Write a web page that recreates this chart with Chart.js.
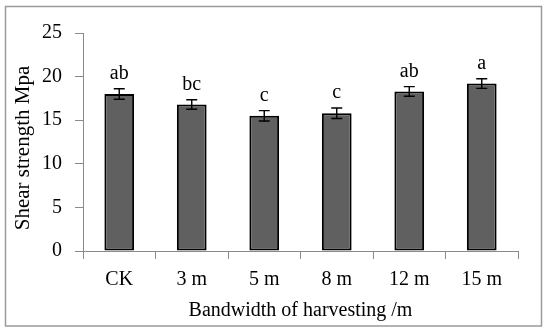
<!DOCTYPE html>
<html>
<head>
<meta charset="utf-8">
<script src="https://cdn.jsdelivr.net/npm/chart.js@4.4.1/dist/chart.umd.min.js"></script>
<style>
html,body{margin:0;padding:0;background:#fff;}
#wrap{width:550px;height:334px;position:relative;}
</style>
</head>
<body>
<div id="wrap"><canvas id="c" width="550" height="334"></canvas></div>
<script>
const categories = ['CK', '3 m', '5 m', '8 m', '12 m', '15 m'];
const shearStrength = [18.0, 16.8, 15.5, 15.8, 18.3, 19.2];
const errors = [0.6, 0.55, 0.6, 0.6, 0.55, 0.55];
const letters = ['ab', 'bc', 'c', 'c', 'ab', 'a'];
const yTicks = [0, 5, 10, 15, 20, 25];
const yTitle = 'Shear strength Mpa';
const xTitle = 'Bandwidth of harvesting /m';

const FONT = "'Liberation Serif', 'Times New Roman', serif";
const AXIS_GRAY = '#8a8a8a';

const framePlugin = {
  id: 'frame',
  beforeDraw(chart) {
    const ctx = chart.ctx;
    ctx.save();
    ctx.fillStyle = '#ffffff';
    ctx.fillRect(0, 0, chart.width, chart.height);
    ctx.strokeStyle = '#9a9a9a';
    ctx.lineWidth = 1.5;
    ctx.strokeRect(5.5, 6.5, 536, 319.5);
    ctx.restore();
  },
  afterDraw(chart) {
    // y-axis title, placed like the reference (slightly below chart-area centre)
    const ctx = chart.ctx;
    const area = chart.chartArea;
    ctx.save();
    ctx.translate(23, (area.top + area.bottom) / 2 + 6);
    ctx.rotate(-Math.PI / 2);
    ctx.fillStyle = '#000';
    ctx.font = "21px " + FONT;
    ctx.textAlign = 'center';
    ctx.textBaseline = 'middle';
    ctx.fillText(yTitle, 0, 0);
    ctx.restore();
  }
};

const errorPlugin = {
  id: 'errorBars',
  afterDatasetsDraw(chart) {
    const ctx = chart.ctx;
    const meta = chart.getDatasetMeta(0);
    const y = chart.scales.y;
    ctx.save();
    ctx.strokeStyle = '#000';
    ctx.lineWidth = 1.4;
    meta.data.forEach((bar, i) => {
      const v = shearStrength[i], e = errors[i];
      const yt = y.getPixelForValue(v + e);
      const yb = y.getPixelForValue(v - e);
      const x = bar.x;
      ctx.beginPath();
      ctx.moveTo(x, yt); ctx.lineTo(x, yb);
      ctx.moveTo(x - 5.5, yt); ctx.lineTo(x + 5.5, yt);
      ctx.moveTo(x - 5.5, yb); ctx.lineTo(x + 5.5, yb);
      ctx.stroke();
      ctx.fillStyle = '#000';
      ctx.font = "20px " + FONT;
      ctx.textAlign = 'center';
      ctx.textBaseline = 'alphabetic';
      ctx.fillText(letters[i], x, yt - 10);
    });
    ctx.restore();
  }
};

new Chart(document.getElementById('c'), {
  type: 'bar',
  data: {
    labels: categories,
    datasets: [{
      data: shearStrength,
      backgroundColor: '#606060',
      borderColor: '#000000',
      borderWidth: 2,
      borderSkipped: false,
      barPercentage: 0.41,
      categoryPercentage: 1.0
    }]
  },
  options: {
    responsive: false,
    devicePixelRatio: 1,
    animation: false,
    events: [],
    layout: { padding: { left: 0, right: 32, top: 33, bottom: 0 } },
    plugins: { legend: { display: false }, tooltip: { enabled: false } },
    scales: {
      x: {
        afterFit(scale) { scale.height = 83; },
        grid: { display: true, drawOnChartArea: false, offset: true, tickLength: 8, color: AXIS_GRAY, lineWidth: 1 },
        border: { display: true, color: AXIS_GRAY, width: 1 },
        ticks: { color: '#000', font: { family: FONT, size: 20 }, padding: 9, maxRotation: 0, autoSkip: false },
        title: { display: true, text: xTitle, color: '#000', font: { family: FONT, size: 20 }, padding: { top: 0, bottom: 11 } }
      },
      y: {
        min: 0, max: 25,
        afterFit(scale) { scale.width = 83; },
        afterBuildTicks(scale) { scale.ticks = yTicks.map(v => ({ value: v })); },
        grid: { display: true, drawOnChartArea: false, tickLength: 8, color: AXIS_GRAY, lineWidth: 1 },
        border: { display: true, color: AXIS_GRAY, width: 1 },
        ticks: { color: '#000', font: { family: FONT, size: 20 }, padding: 13 },
        title: { display: false }
      }
    }
  },
  plugins: [framePlugin, errorPlugin]
});
</script>
</body>
</html>
